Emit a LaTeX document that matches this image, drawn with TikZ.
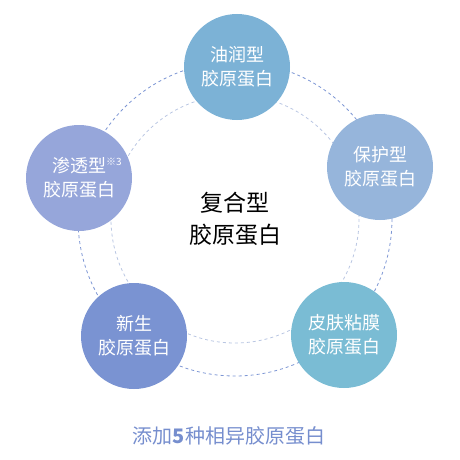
\documentclass[tikz,border=0pt]{standalone}
\usepackage{fontspec}
\setmainfont{Noto Sans CJK SC}
\usepackage{tikz}
\usetikzlibrary{positioning}
\definecolor{tcol}{RGB}{124,178,214}
\definecolor{rcol}{RGB}{150,181,219}
\definecolor{brcol}{RGB}{122,188,212}
\definecolor{blcol}{RGB}{122,147,210}
\definecolor{lcol}{RGB}{150,166,218}
\definecolor{ringo}{RGB}{125,150,212}
\definecolor{ringi}{RGB}{185,198,226}
\definecolor{capc}{RGB}{118,142,206}

\begin{document}
\begin{tikzpicture}[x=1pt,y=-1pt,font=\fontsize{18}{24}\selectfont]
\tikzstyle{kind}=[circle,minimum size=106pt,inner sep=0pt,text=white,align=center]
\useasboundingbox (0,0) rectangle (460,460);
\coordinate (c) at (235,219);
% two dashed rings behind the five kinds
\draw[ringo,dashed,thick] (c) circle (157);
\draw[ringi,dashed,thick] (c) circle (124);
\node[kind,fill=tcol] (oil) at (237,67) {油润型\\胶原蛋白};
\node[kind,fill=rcol] (prot) at (380,167) {保护型\\胶原蛋白};
\node[kind,fill=brcol] (skin) at (344,335) {皮肤粘膜\\胶原蛋白};
\node[kind,fill=blcol] (new) at (134,336) {新生\\胶原蛋白};
\node[kind,fill=lcol] (pen) at (79,178) {渗透型\rlap{\raisebox{0.7ex}{\fontsize{10}{10}\selectfont ※3}}\\胶原蛋白};
% compound in the middle
\node[align=center,font=\fontsize{23}{32}\selectfont] (mix) at (c) {复合型\\胶原蛋白};
\node[capc,font=\fontsize{20}{24}\selectfont] (cap) at (229,436) {添加\textbf{5}种相异胶原蛋白};
\end{tikzpicture}
\end{document}
